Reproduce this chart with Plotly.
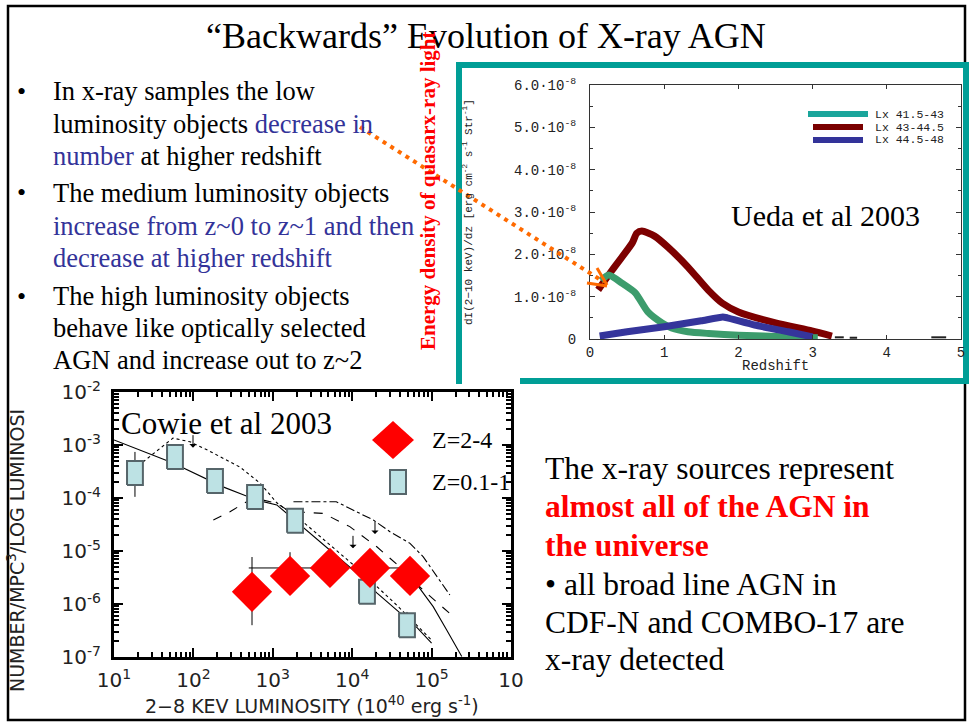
import numpy as np
import plotly.graph_objects as go

W, H = 969, 723

# ---------------- Ueda et al 2003 : energy density vs redshift (units 1e-8) ----------------
z_low = [0.15, 0.25, 0.43, 0.61, 0.78, 0.97, 1.1, 1.32, 1.6, 2.0, 2.67, 3.07]
e_low = [1.38, 1.51, 1.32, 1.09, 0.64, 0.38, 0.26, 0.17, 0.13, 0.09, 0.05, 0.03]

z_mid = [0.11, 0.3, 0.57, 0.63, 0.70, 0.87, 1.05, 1.32, 1.59, 1.78, 2.0, 2.5, 2.99, 3.26]
e_mid = [1.16, 1.63, 2.27, 2.5, 2.55, 2.43, 2.17, 1.7, 1.16, 0.85, 0.64, 0.38, 0.19, 0.07]

z_high = [0.13, 0.5, 1.0, 1.5, 1.79, 1.85, 2.22, 2.67, 3.0]
e_high = [0.07, 0.17, 0.29, 0.43, 0.52, 0.50, 0.33, 0.17, 0.05]

# faint residual marks near zero at high redshift
z_tail = [3.30, 3.42, None, 3.50, 3.60, None, 4.60, 4.80]
e_tail = [0.04, 0.04, None, 0.03, 0.03, None, 0.04, 0.04]

ueda_legend = ["Lx 41.5-43", "Lx 43-44.5", "Lx 44.5-48"]
ueda_yticks = [0, 1, 2, 3, 4, 5, 6]
ueda_xticks = [0, 1, 2, 3, 4, 5]

# ---------------- Cowie et al 2003 : luminosity function (log10 values) ----------------
sq_logL = [1.264, 1.768, 2.272, 2.776, 3.28, 4.186, 4.69]      # Z=0.1-1
sq_logN = [-3.53, -3.226, -3.68, -3.98, -4.43, -5.77, -6.40]
sq_err_up = [4.45e-4, 0, 0, 0, 0, 0, 3.1e-7]
sq_err_dn = [1.9e-4, 0, 0, 0, 0, 0, 0]

dm_logL = [2.738, 3.217, 3.72, 4.224, 4.728]                    # Z=2-4
dm_logN = [-5.77, -5.47, -5.32, -5.32, -5.47]
dm_err_up = [6.0e-6, 6.1e-6, 0, 0, 0]
dm_err_dn = [1.3e-6, 1.5e-6, 0, 0, 0]
dm_errx_plus = [0, 0, 0, 5.0e4, 0]
dm_errx_minus = [0, 0, 4750, 0, 0]

solid_logL = [1.0, 1.743, 2.373, 2.80, 3.05, 3.38, 3.72, 4.06, 4.31, 4.56, 4.82, 5.0]
solid_logN = [-2.906, -3.34, -3.79, -4.04, -4.13, -4.55, -4.98, -5.42, -5.79, -6.11, -6.45, -6.74]

dot_logL = [1.365, 1.743, 1.957, 2.17, 2.59, 2.84, 3.05, 3.38, 4.06, 4.56, 5.0]
dot_logN = [-3.32, -2.87, -2.94, -3.09, -3.42, -3.72, -4.09, -4.45, -5.32, -6.02, -6.68]

dash_logL = [2.251, 2.461, 2.671, 2.88, 3.05, 3.217, 3.636, 3.97, 4.31, 4.60, 4.895, 5.23]
dash_logN = [-4.415, -4.258, -4.07, -4.04, -4.10, -4.258, -4.29, -4.54, -4.92, -5.30, -5.74, -6.18]

dashdot_logL = [3.26, 3.80, 4.055, 4.266, 4.476, 4.728, 4.895, 5.064, 5.23]
dashdot_logN = [-4.07, -4.07, -4.26, -4.415, -4.636, -4.855, -5.11, -5.485, -5.83]

solid2_logL = [4.80, 5.02, 5.19, 5.38]
solid2_logN = [-5.60, -6.05, -6.49, -6.99]

# upper-limit arrows (tip positions)
limit_logL = [1.995, 4.287, 4.01]
limit_logN = [-3.05, -4.68, -4.95]

cowie_xtick_exp = [1, 2, 3, 4, 5, 6]
cowie_ytick_exp = [-7, -6, -5, -4, -3, -2]

SERIF = "Liberation Serif"
MONO = "Liberation Mono"
SANS = "DejaVu Sans"
BLUE_TXT = "#333399"


def px(x):
    return x / W


def py(y):
    return 1 - y / H


def p10(a):
    return [10 ** v for v in a]


fig = go.Figure()

# ---- Ueda curves
fig.add_trace(go.Scatter(x=z_tail, y=np.array(e_tail, dtype=float) * 1e-8, mode="lines",
                         line=dict(color="#222", width=2),
                         xaxis="x", yaxis="y", showlegend=False, hoverinfo="skip"))
fig.add_trace(go.Scatter(x=z_mid, y=np.array(e_mid) * 1e-8, mode="lines",
                         line=dict(color="#7d0000", width=7, shape="spline", smoothing=0.6),
                         xaxis="x", yaxis="y", showlegend=False, hoverinfo="skip"))
fig.add_trace(go.Scatter(x=z_low, y=np.array(e_low) * 1e-8, mode="lines",
                         line=dict(color="#3c9c6c", width=7, shape="spline", smoothing=0.6),
                         xaxis="x", yaxis="y", showlegend=False, hoverinfo="skip"))
fig.add_trace(go.Scatter(x=z_high, y=np.array(e_high) * 1e-8, mode="lines",
                         line=dict(color="#35359b", width=7, shape="spline", smoothing=0.4),
                         xaxis="x", yaxis="y", showlegend=False, hoverinfo="skip"))

# ---- Cowie curves
def cline(lx, ly, dash):
    fig.add_trace(go.Scatter(x=p10(lx), y=p10(ly), mode="lines",
                             line=dict(color="black", width=1.1, dash=dash),
                             xaxis="x2", yaxis="y2", showlegend=False, hoverinfo="skip"))


cline(solid_logL, solid_logN, "solid")
cline(dot_logL, dot_logN, "dot")
cline(dash_logL, dash_logN, "dash")
cline(dashdot_logL, dashdot_logN, "dashdot")
cline(solid2_logL, solid2_logN, "solid")

# error bars of squares (under the boxes)
fig.add_trace(go.Scatter(x=p10(sq_logL), y=p10(sq_logN), mode="markers",
                         marker=dict(size=1, opacity=0),
                         error_y=dict(type="data", symmetric=False, array=sq_err_up, arrayminus=sq_err_dn,
                                      color="black", thickness=1, width=0),
                         xaxis="x2", yaxis="y2", showlegend=False, hoverinfo="skip"))

# rectangular boxes for Z=0.1-1
hw, hh = 0.1, 0.226
bx, by = [], []
for lx, ly in zip(sq_logL, sq_logN):
    bx += [10 ** (lx - hw), 10 ** (lx + hw), 10 ** (lx + hw), 10 ** (lx - hw), 10 ** (lx - hw), None]
    by += [10 ** (ly - hh), 10 ** (ly - hh), 10 ** (ly + hh), 10 ** (ly + hh), 10 ** (ly - hh), None]
fig.add_trace(go.Scatter(x=bx, y=by, mode="lines", fill="toself", fillcolor="#bde2e4",
                         line=dict(color="#56656a", width=2),
                         xaxis="x2", yaxis="y2", showlegend=False, hoverinfo="skip"))

# diamonds Z=2-4
fig.add_trace(go.Scatter(x=p10(dm_logL), y=p10(dm_logN), mode="markers",
                         marker=dict(symbol="diamond", size=31, color="#ff0000", line=dict(width=0)),
                         error_y=dict(type="data", symmetric=False, array=dm_err_up, arrayminus=dm_err_dn,
                                      color="black", thickness=1, width=0),
                         error_x=dict(type="data", symmetric=False, array=dm_errx_plus, arrayminus=dm_errx_minus,
                                      color="black", thickness=1, width=0),
                         xaxis="x2", yaxis="y2", showlegend=False, hoverinfo="skip"))

# ---------------- layout ----------------
ueda_ytext = ["0"] + [f"{v:.1f}·10<sup>-8</sup>" for v in ueda_yticks[1:]]
cowie_minor_x = [m * 10 ** e for e in range(1, 6) for m in range(2, 10)]
cowie_minor_y = [m * 10.0 ** e for e in range(-7, -2) for m in range(2, 10)]

fig.update_layout(
    template="none",
    width=W, height=H, margin=dict(l=0, r=0, t=0, b=0, pad=0, autoexpand=False),
    paper_bgcolor="white", plot_bgcolor="white", showlegend=False,
    xaxis=dict(domain=[px(590), px(961)], range=[0, 5], tickvals=ueda_xticks, automargin=False,
               ticks="inside", ticklen=4, tickcolor="#333", showline=True, linecolor="#333",
               linewidth=1, mirror="ticks", showgrid=False, zeroline=False,
               tickfont=dict(family=MONO, size=14, color="#222"), anchor="y"),
    yaxis=dict(domain=[py(339), py(85)], range=[0, 6e-8], automargin=False,
               tickvals=[v * 1e-8 for v in ueda_yticks], ticktext=ueda_ytext,
               ticks="inside", ticklen=5, tickcolor="#333", showline=True, linecolor="#333",
               linewidth=1, mirror="ticks", showgrid=False, zeroline=False,
               minor=dict(ticks="inside", ticklen=3, dtick=0.5e-8, tickcolor="#333", showgrid=False),
               ticklabelstandoff=10,
               tickfont=dict(family=MONO, size=14, color="#222"), anchor="x"),
    xaxis2=dict(domain=[px(114), px(511)], type="log", range=[1, 6], automargin=False,
                tickvals=[10 ** e for e in cowie_xtick_exp],
                ticktext=[f"10<sup>{e}</sup>" for e in cowie_xtick_exp[:-1]] + ["10"],
                ticks="inside", ticklen=9, tickwidth=2, tickcolor="black",
                minor=dict(ticks="inside", ticklen=5, tickwidth=1.5, tickvals=cowie_minor_x,
                           tickcolor="black", showgrid=False),
                showline=True, linecolor="black", linewidth=3, mirror="allticks",
                showgrid=False, zeroline=False, ticklabelstandoff=3,
                tickfont=dict(family=SANS, size=20, color="#222"), anchor="y2"),
    yaxis2=dict(domain=[py(657), py(392)], type="log", range=[-7, -2], automargin=False,
                tickvals=[10.0 ** e for e in cowie_ytick_exp],
                ticktext=[f"10<sup>{e}</sup>" for e in cowie_ytick_exp],
                ticks="inside", ticklen=9, tickwidth=2, tickcolor="black",
                minor=dict(ticks="inside", ticklen=5, tickwidth=1.5, tickvals=cowie_minor_y,
                           tickcolor="black", showgrid=False),
                showline=True, linecolor="black", linewidth=3, mirror="allticks",
                showgrid=False, zeroline=False, ticklabelstandoff=6,
                tickfont=dict(family=SANS, size=20, color="#222"), anchor="x2"),
)

shapes = []
# slide border
shapes.append(dict(type="rect", xref="paper", yref="paper", x0=px(8), x1=px(965), y0=py(720), y1=py(6),
                   line=dict(color="black", width=2.5), layer="below"))
# teal frame around Ueda figure
shapes.append(dict(type="rect", xref="paper", yref="paper", x0=px(459), x1=px(966), y0=py(381), y1=py(65),
                   line=dict(color="#009e96", width=6), layer="below"))
# white corner of the Cowie picture overlapping the teal frame
shapes.append(dict(type="rect", xref="paper", yref="paper", x0=px(462), x1=px(520), y0=py(386), y1=py(377),
                   fillcolor="white", line=dict(width=0), layer="below"))
# Ueda legend keys
for (x0, x1, yy, col) in [(808, 868, 114, "#1aa59b"), (813, 863, 127, "#7a0000"), (813, 863, 140, "#333399")]:
    shapes.append(dict(type="line", xref="paper", yref="paper", x0=px(x0), x1=px(x1), y0=py(yy), y1=py(yy),
                       line=dict(color=col, width=6)))
# Cowie legend keys
cx, cy = 393, 440
shapes.append(dict(type="path", xref="paper", yref="paper",
                   path=f"M {px(cx-21)},{py(cy)} L {px(cx)},{py(cy-19)} L {px(cx+21)},{py(cy)} L {px(cx)},{py(cy+19)} Z",
                   fillcolor="#ff0000", line=dict(width=0)))
shapes.append(dict(type="rect", xref="paper", yref="paper", x0=px(390), x1=px(406), y0=py(494), y1=py(470),
                   fillcolor="#bde2e4", line=dict(color="#56656a", width=2)))
# orange dotted arrow
shapes.append(dict(type="line", xref="paper", yref="paper", x0=px(360), y0=py(127), x1=px(604), y1=py(282),
                   line=dict(color="#ff6a00", width=4, dash="4px,5px")))
shapes.append(dict(type="line", xref="paper", yref="paper", x0=px(597), y0=py(268), x1=px(607), y1=py(285),
                   line=dict(color="#ff6a00", width=3)))
shapes.append(dict(type="line", xref="paper", yref="paper", x0=px(587), y0=py(283), x1=px(607), y1=py(286),
                   line=dict(color="#ff6a00", width=3)))

ann = []

# upper-limit arrows on the Cowie plot (data coordinates, log axes take log10 values)
for lx, ly in zip(limit_logL, limit_logN):
    ann.append(dict(x=lx, y=ly, xref="x2", yref="y2", text="", showarrow=True,
                    ax=0, ay=-14, arrowhead=1, arrowsize=1.2, arrowwidth=1, arrowcolor="black"))


def txt(x, y, s, size, family=SERIF, color="black", xanchor="left", angle=0):
    ann.append(dict(x=px(x), y=py(y), xref="paper", yref="paper", text=s, showarrow=False,
                    xanchor=xanchor, yanchor="middle", textangle=angle, borderpad=0,
                    font=dict(family=family, size=size, color=color)))


# title
txt(486, 36, "“Backwards” Evolution of X-ray AGN", 36, xanchor="center")

# left bullets
b = lambda s: f"<span style='color:{BLUE_TXT}'>{s}</span>"
left_lines = [
    (91, "In x-ray samples the low"),
    (124, "luminosity objects " + b("decrease in")),
    (156, b("number") + " at higher redshift"),
    (193, "The medium luminosity objects"),
    (226, b("increase from z~0 to z~1 and then")),
    (258, b("decrease at higher redshift")),
    (296, "The high luminosity objects"),
    (328, "behave like optically selected"),
    (360, "AGN and increase out to z~2"),
]
for yy, s in left_lines:
    txt(52, yy, s, 26.5)
for yy in (91, 193, 296):
    txt(21, yy, "•", 26, xanchor="center")

# right text block
right_lines = [
    (468, "The x-ray sources represent"),
    (507, "<b><span style='color:#ff0000'>almost all of the AGN in</span></b>"),
    (545, "<b><span style='color:#ff0000'>the universe</span></b>"),
    (584, "• all broad line AGN in"),
    (622, "CDF-N and COMBO-17 are"),
    (659, "x-ray detected"),
]
for yy, s in right_lines:
    txt(544, yy, s, 31.5)

# Ueda annotations
txt(730, 215, "Ueda et al 2003", 30)
txt(775, 366, "Redshift", 14, family=MONO, color="#222", xanchor="center")
txt(468, 212, "dI(2−10 keV)/dz [erg cm<sup>-2</sup> s<sup>-1</sup> Str<sup>-1</sup>]", 11,
    family=MONO, color="#222", xanchor="center", angle=-90)
for yy, s in zip([114, 127, 140], ueda_legend):
    txt(874, yy, s, 11.5, family=MONO, color="#222")

# red rotated label
txt(428, 191, "<b>Energy density of quasarx-ray light</b>", 21, color="#ff0000", xanchor="center", angle=-90)

# Cowie annotations
txt(120, 423, "Cowie et al 2003", 31)
txt(431, 440, "Z=2-4", 24)
txt(431, 482, "Z=0.1-1", 24)
txt(16, 551, "NUMBER/MPC<sup>3</sup>/LOG LUMINOSI", 19, family=SANS, color="#222",
    xanchor="center", angle=-90)
txt(312, 705, "2−8 KEV LUMINOSITY (10<sup>40</sup> erg s<sup>-1</sup>)", 19, family=SANS,
    color="#222", xanchor="center")

fig.update_layout(shapes=shapes, annotations=ann)
fig.write_html("out.html")
